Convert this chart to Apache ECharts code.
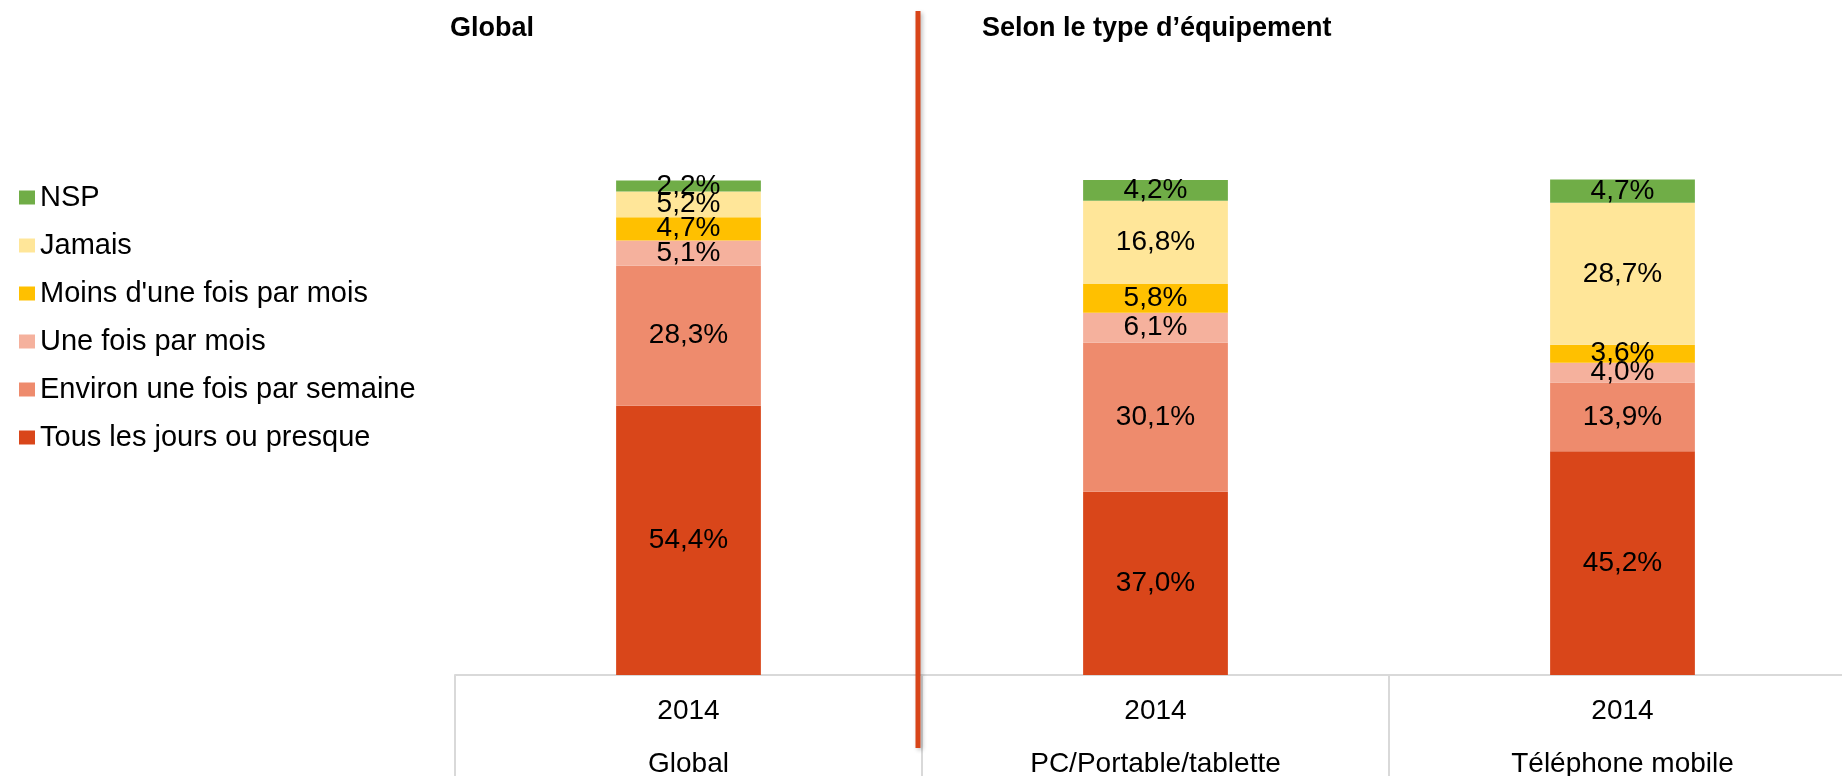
<!DOCTYPE html>
<html>
<head>
<meta charset="utf-8">
<script src="https://cdn.jsdelivr.net/npm/echarts@6/dist/echarts.min.js"></script>
<style>
  html, body { margin: 0; padding: 0; background: #fff; }
  #chart { width: 1842px; height: 776px; }
</style>
</head>
<body>
<div id="chart"></div>
<script>
// Categories along the x axis (year + group on two lines)
const years = ['2014', '2014', '2014'];
const groups = ['Global', 'PC/Portable/tablette', 'Téléphone mobile'];

// Frequency answers, stacked from the bottom up (percent)
const tousLesJours = [54.4, 37.0, 45.2];
const environSemaine = [28.3, 30.1, 13.9];
const uneFoisMois = [5.1, 6.1, 4.0];
const moinsUneFoisMois = [4.7, 5.8, 3.6];
const jamais = [5.2, 16.8, 28.7];
const nsp = [2.2, 4.2, 4.7];

const seriesNames = [
  'Tous les jours ou presque',
  'Environ une fois par semaine',
  'Une fois par mois',
  "Moins d'une fois par mois",
  'Jamais',
  'NSP'
];
const seriesValues = [tousLesJours, environSemaine, uneFoisMois, moinsUneFoisMois, jamais, nsp];
const seriesColors = ['#D9461A', '#EE8B6D', '#F5B19D', '#FFC000', '#FFE699', '#70AD47'];

const FONT = "'Liberation Sans', Arial, Helvetica, sans-serif";

const chart = echarts.init(document.getElementById('chart'), null, { renderer: 'canvas' });

const series = seriesNames.map((name, i) => ({
  name: name,
  type: 'bar',
  stack: 'total',
  barWidth: '31%',
  clip: false,
  itemStyle: { color: seriesColors[i] },
  label: {
    show: true,
    position: 'inside',
    color: '#000',
    textBorderWidth: 0,
    fontFamily: FONT,
    fontSize: 28,
    formatter: p => p.value.toFixed(1).replace('.', ',') + '%'
  },
  emphasis: { disabled: true },
  data: seriesValues[i]
}));

chart.setOption({
  animation: false,
  backgroundColor: '#fff',
  title: [
    {
      text: 'Global',
      left: 445, top: 10,
      textStyle: { fontFamily: FONT, fontSize: 27, fontWeight: 'bold', color: '#000' }
    },
    {
      text: 'Selon le type d’équipement',
      left: 977, top: 10,
      textStyle: { fontFamily: FONT, fontSize: 27, fontWeight: 'bold', color: '#000' }
    }
  ],
  legend: {
    orient: 'vertical',
    left: 14,
    top: 178,
    itemWidth: 16,
    itemHeight: 14,
    itemGap: 19,
    icon: 'rect',
    selectedMode: false,
    data: seriesNames.slice().reverse(),
    textStyle: { fontFamily: FONT, fontSize: 29, lineHeight: 29, color: '#000' }
  },
  grid: {
    left: 455, top: 180, width: 1401, height: 495,
    containLabel: false,
    outerBoundsMode: 'none'
  },
  xAxis: {
    type: 'category',
    data: years.map((y, i) => y + '\n' + groups[i]),
    axisLine: { show: true, lineStyle: { color: '#D9D9D9', width: 2 } },
    axisTick: { show: true, length: 104, alignWithLabel: false, lineStyle: { color: '#D9D9D9', width: 2 } },
    axisLabel: {
      margin: 10,
      fontFamily: FONT,
      fontSize: 28,
      lineHeight: 53,
      color: '#000',
      interval: 0
    }
  },
  yAxis: {
    type: 'value',
    min: 0,
    max: 100,
    show: false,
    splitLine: { show: false }
  },
  graphic: [
    {
      type: 'line',
      shape: { x1: 918, y1: 11, x2: 918, y2: 748 },
      style: {
        stroke: '#D84519',
        lineWidth: 5,
        shadowColor: 'rgba(0,0,0,0.25)',
        shadowBlur: 4,
        shadowOffsetX: 2,
        shadowOffsetY: 2
      },
      z: 100
    }
  ],
  series: series
});
</script>
</body>
</html>
